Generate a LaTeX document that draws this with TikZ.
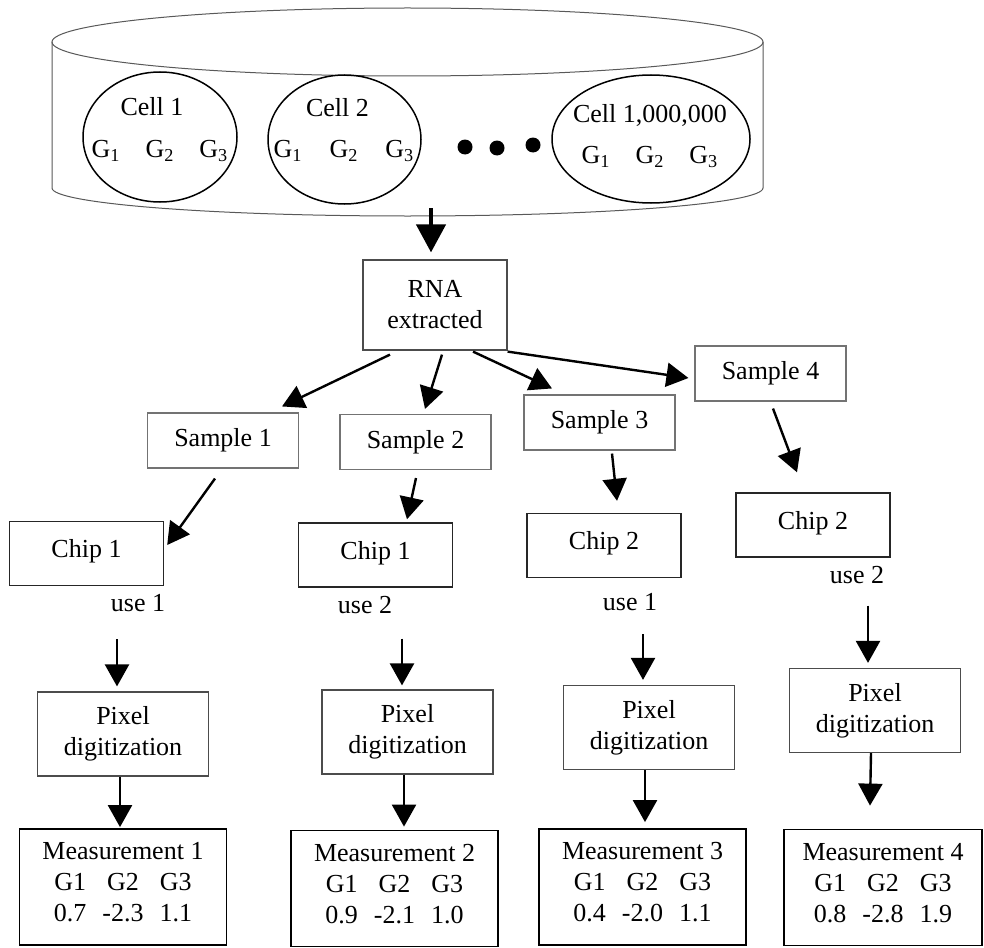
\documentclass[tikz,border=0pt]{standalone}
\usepackage{fontspec}
\setmainfont{Liberation Serif}
\usetikzlibrary{arrows.meta,calc,shapes.geometric}

\begin{document}
\begin{tikzpicture}[x=0.5pt,y=-0.5pt,
  every node/.style={font=\fontsize{13}{15.5}\selectfont, inner sep=0pt, align=center},
  cyl/.style={draw=black!65, line width=0.5pt},
  cellshape/.style={ellipse, draw=black, line width=0.75pt},
  rnabox/.style={draw=black!70, line width=0.6pt, minimum width=72pt, minimum height=45pt},
  samplebox/.style={draw=black!55, line width=0.55pt, minimum width=75.5pt, minimum height=27.5pt},
  chipbox/.style={draw=black!85, line width=0.7pt, minimum width=77pt, minimum height=32pt, text depth=5pt},
  pixbox/.style={draw=black!70, line width=0.6pt, minimum width=85.5pt, minimum height=42pt},
  measbox/.style={draw=black, line width=0.9pt, minimum width=103.5pt, minimum height=58pt},
  arr/.style={line width=1.2pt, -{Triangle[length=11pt,width=12pt]}},
  bigarr/.style={line width=2.2pt, -{Triangle[length=14pt,width=14.5pt]}},
]
\fill[white] (0,0) rectangle (984,947);
\useasboundingbox (0,0) rectangle (984,947);

% cylinder holding the cell population
\draw[cyl] (407.5,42) ellipse[x radius=177.75pt, y radius=17pt];
\draw[cyl] (52,42) -- (52,188) arc[start angle=180, end angle=360, x radius=177.75pt, y radius=14pt] -- (763,42);
\coordinate (cylout) at (431,208);

% cells
\node[cellshape, minimum width=77pt, minimum height=65pt] (cellA) at (160,137) {};
\node (cellAname) at (152,107) {Cell 1};
\node (cellAgenes) at (160,151) {G\textsubscript{1}\hspace{12.5pt}G\textsubscript{2}\hspace{12.5pt}G\textsubscript{3}};

\node[cellshape, minimum width=76.5pt, minimum height=64.5pt] (cellB) at (344.5,139.5) {};
\node (cellBname) at (337.5,108) {Cell 2};
\node (cellBgenes) at (344,151) {G\textsubscript{1}\hspace{13.5pt}G\textsubscript{2}\hspace{13.5pt}G\textsubscript{3}};

\node[cellshape, minimum width=99pt, minimum height=64pt] (cellC) at (651,139) {};
\node (cellCname) at (650,115) {Cell 1,000,000};
\node (cellCgenes) at (650,157) {G\textsubscript{1}\hspace{12.5pt}G\textsubscript{2}\hspace{12.5pt}G\textsubscript{3}};

\fill (465,147) circle[radius=3.75pt];
\fill (497,148) circle[radius=3.75pt];
\fill (533,145) circle[radius=3.75pt];

% processing steps
\node[rnabox] (rna) at (435,305) {RNA\\extracted};

\node[samplebox] (s1) at (223,440.5) {Sample 1};
\node[samplebox] (s2) at (415.5,442) {Sample 2};
\node[samplebox] (s3) at (599.5,422.5) {Sample 3};
\node[samplebox] (s4) at (770.5,373.5) {Sample 4};

\node[chipbox] (c1) at (86.5,553.5) {Chip 1};
\node[chipbox] (c2) at (375.5,555) {Chip 1};
\node[chipbox] (c3) at (604,545.5) {Chip 2};
\node[chipbox] (c4) at (813,525) {Chip 2};

\node (u1) at (138,603) {use 1};
\node (u2) at (365,605) {use 2};
\node (u3) at (630,602) {use 1};
\node (u4) at (857,575) {use 2};

\node[pixbox] (p1) at (123,734) {Pixel\\digitization};
\node[pixbox] (p2) at (407.5,732) {Pixel\\digitization};
\node[pixbox] (p3) at (649,727.5) {Pixel\\digitization};
\node[pixbox] (p4) at (875,710.5) {Pixel\\digitization};

\node[measbox] (m1) at (123,887) {Measurement 1\\\begin{tabular}[t]{@{}c@{\hspace{8pt}}c@{\hspace{8pt}}c@{}}G1&G2&G3\\0.7&-2.3&1.1\end{tabular}};
\node[measbox] (m2) at (394.5,888.5) {Measurement 2\\\begin{tabular}[t]{@{}c@{\hspace{8pt}}c@{\hspace{8pt}}c@{}}G1&G2&G3\\0.9&-2.1&1.0\end{tabular}};
\node[measbox] (m3) at (642.5,887) {Measurement 3\\\begin{tabular}[t]{@{}c@{\hspace{8pt}}c@{\hspace{8pt}}c@{}}G1&G2&G3\\0.4&-2.0&1.1\end{tabular}};
\node[measbox, minimum width=99pt] (m4) at (883,887.5) {Measurement 4\\\begin{tabular}[t]{@{}c@{\hspace{8pt}}c@{\hspace{8pt}}c@{}}G1&G2&G3\\0.8&-2.8&1.9\end{tabular}};

% connectors
\draw[bigarr] (cylout) -- ($(rna.north)+(-4,-7)$);
\draw[arr] ($(rna.south)+(-45,4)$) -- ($(s1.north)+(59,-6)$);
\draw[arr] ($(rna.south)+(7,4)$) -- ($(s2.north)+(9.5,-5)$);
\draw[arr] ($(rna.south)+(38,1)$) -- ($(s3.north)+(-47.5,-6)$);
\draw[arr] ($(rna.south east)+(0,1)$) -- ($(s4.west)+(-6,4.5)$);

\draw[arr] ($(s1.south)+(-8,10)$) -- ($(c1.east)+(3,-8.5)$);
\draw[arr] ($(s2.south)+(0.5,8)$) -- ($(c2.north)+(31.5,-3)$);
\draw[arr] ($(s3.south)+(12.5,3)$) -- ($(c3.north)+(13,-12)$);
\draw[arr] ($(s4.south)+(2.5,7)$) -- ($(c4.north)+(-16,-20)$);

\draw[arr] ($(c1.south)+(30.5,53)$) -- ($(p1.north)+(-6,-5)$);
\draw[arr] ($(c2.south)+(26.5,51)$) -- ($(p2.north)+(-5.5,-4)$);
\draw[arr] ($(c3.south)+(39,56)$) -- ($(p3.north)+(-6,-5)$);
\draw[arr] ($(c4.south)+(55,48)$) -- ($(p4.north)+(-7,-5)$);

\draw[arr] ($(p1.south)+(-3,0)$) -- ($(m1.north)+(-3,-1)$);
\draw[arr] ($(p2.south)+(-3.5,0)$) -- ($(m2.north)+(9.5,-3)$);
\draw[arr] ($(p3.south)+(-4,0)$) -- ($(m3.north)+(2.5,-6)$);
\draw[arr] ($(p4.south)+(-4,0)$) -- ($(m4.north)+(-13,-23)$);
\end{tikzpicture}
\end{document}
